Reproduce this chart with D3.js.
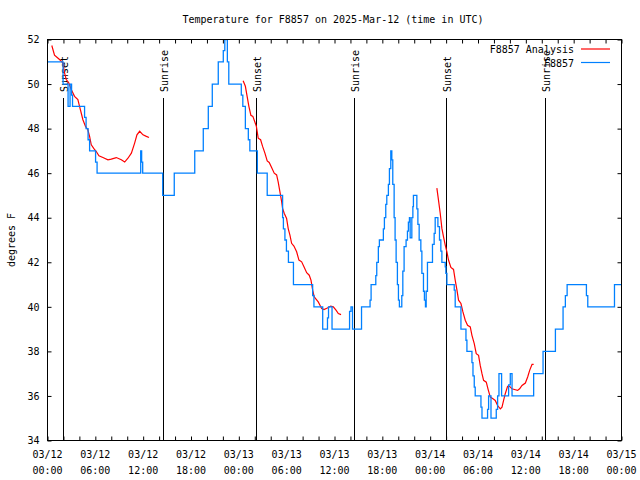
<!DOCTYPE html>
<html><head><meta charset="utf-8">
<script src="https://cdn.jsdelivr.net/npm/d3@7"></script>
<style>
body{margin:0;background:#fff}
text{font-family:"DejaVu Sans Mono","Liberation Mono",monospace;font-size:10px;fill:#000}
</style>
</head><body>
<svg id="chart" width="640" height="480"></svg>
<script>
const title = "Temperature for F8857 on 2025-Mar-12 (time in UTC)";
const yLabel = "degrees F";
const seriesNames = ["F8857 Analysis", "F8857"];
const seriesColors = ["#ff0000", "#0080ff"];
const startUTC = Date.UTC(2025, 2, 12, 0, 0);
const xTickHours = [0, 6, 12, 18, 24, 30, 36, 42, 48, 54, 60, 66, 72];
const xTickDates = ["03/12","03/12","03/12","03/12","03/13","03/13","03/13","03/13","03/14","03/14","03/14","03/14","03/15"];
const xTickTimes = ["00:00","06:00","12:00","18:00","00:00","06:00","12:00","18:00","00:00","06:00","12:00","18:00","00:00"];
const yTicks = [34, 36, 38, 40, 42, 44, 46, 48, 50, 52];
const sunLabels = ["Sunset", "Sunrise", "Sunset", "Sunrise", "Sunset", "Sunrise"];
const sunHours = [2.0, 14.45, 26.1, 38.4, 50.0, 62.4];

// observations (hours since 03/12 00:00 UTC, degrees F), step changes
const obsHours = [0.00,1.95,2.58,2.83,3.02,3.14,4.65,4.84,5.09,5.28,6.03,6.22,11.69,11.81,11.94,14.45,15.90,18.47,19.54,20.17,20.67,21.42,22.05,22.24,22.56,22.74,24.31,24.50,24.82,25.19,25.38,26.32,27.56,29.49,29.59,29.78,29.97,30.22,30.85,33.26,33.42,34.52,35.12,35.25,35.69,37.89,38.07,38.26,39.39,40.46,40.59,41.18,41.30,41.50,41.63,42.13,42.26,42.43,42.56,42.76,42.89,43.06,43.19,43.31,43.48,43.60,43.73,43.89,44.02,44.14,44.44,44.57,44.73,44.98,45.15,45.27,45.40,45.49,45.70,45.83,45.90,46.33,46.46,46.62,46.83,46.96,47.16,47.28,47.41,47.50,47.66,48.29,48.50,48.63,48.97,49.17,49.34,49.47,49.89,49.97,50.10,51.02,51.14,51.86,52.49,52.61,53.24,53.37,53.53,53.65,54.37,54.50,55.20,55.33,55.63,56.29,56.46,56.63,56.96,57.84,58.05,58.27,60.98,62.16,63.71,64.67,64.96,65.18,67.60,67.77,71.12,72.00];
const obsTemp  = [51,50,49,50,49.5,49,48.5,48,47.5,47,46.5,46,47,46.5,46,45,46,47,48,49,50,51,51.5,52,51,50,49.5,49,48,47.5,47,46,45,44,43.5,43,42.5,42,41,40.5,40,39,39.5,40,39,39.8,40,39,40,40.3,41,41.4,42,42.7,43,43.5,44,44.6,45,45.5,46.2,47,46.6,45.5,44,43,42,41,40.3,40,40.5,41.6,42.7,43,43.4,43.8,44,43.1,44,44.5,45,44.4,43.7,43,42.5,41.5,40.7,40.3,40,40.7,42,42.8,43.3,44,43.6,43,42.5,42,41.8,41.5,41,40.75,40,39,38.5,38,37.5,36.9,36.4,36,35.5,35,35.4,36,35,35.4,36,37,36,36.5,37,36,37,38,39,40,40.5,41,40.5,40,41,41];

// analysis (null = gap)
const anaHours = [0.54,0.88,1.51,1.92,2.14,2.35,2.68,2.98,3.39,3.81,4.02,4.23,4.44,4.77,5.06,5.28,5.49,5.82,6.12,6.45,6.95,7.58,8.00,8.63,9.26,9.68,10.09,10.52,10.93,11.22,11.56,11.98,12.40,12.73,
  18.0,
  24.54,24.82,25.04,25.26,25.51,25.76,26.01,26.20,26.43,26.73,26.98,27.27,27.56,27.81,28.11,28.44,28.74,28.94,29.15,29.37,29.49,29.69,29.99,30.20,30.41,30.62,30.91,31.25,31.54,31.88,32.17,32.51,32.83,33.05,33.26,33.46,33.68,33.96,34.18,34.39,34.68,35.10,35.52,35.85,36.19,36.48,36.82,
  42.0,
  48.84,49.04,49.26,49.47,49.67,49.89,50.10,50.30,50.60,50.93,51.14,51.36,51.56,51.86,52.11,52.40,52.69,53.03,53.24,53.53,53.78,54.07,54.28,54.50,54.70,55.04,55.25,55.54,55.88,56.16,56.46,56.80,57.01,57.21,57.42,57.71,57.96,58.26,58.68,58.97,59.22,59.52,59.94,60.23,60.48,60.78,60.98];
const anaTemp = [51.73,51.3,51.1,50.95,50.5,50.2,50.05,49.75,49.45,49.3,49.0,48.7,48.4,48.1,47.95,47.65,47.27,47.1,46.97,46.78,46.7,46.6,46.63,46.7,46.6,46.5,46.67,46.9,47.35,47.72,47.88,47.72,47.65,47.6,
  null,
  50.15,49.9,49.45,49.0,48.6,48.55,48.3,48.1,47.57,47.5,47.2,46.9,46.55,46.48,46.25,46.0,45.92,45.6,45.17,44.72,44.42,44.2,43.97,43.5,43.22,42.85,42.73,42.47,42.1,42.02,41.8,41.53,41.42,41.2,40.75,40.45,40.35,40.22,40.07,39.92,39.88,39.95,40.03,40.0,39.85,39.7,39.65,
  null,
  45.33,44.8,44.2,43.52,43.15,42.77,42.47,42.1,41.77,41.68,41.2,40.75,40.3,40.15,39.77,39.4,39.17,39.1,38.72,38.35,37.9,37.82,37.37,37.0,36.7,36.62,36.32,35.95,35.87,35.8,35.57,35.42,35.5,35.8,36.1,36.43,36.43,36.32,36.28,36.25,36.32,36.47,36.58,36.85,37.15,37.42,37.42];

const hourToDate = h => new Date(startUTC + h * 3600e3);

const L = 47.5, R = 621.5, T = 39.5, B = 440.5;
const svg = d3.select("#chart");
const x = d3.scaleUtc().domain([hourToDate(0), hourToDate(72)]).range([L, R]);
const y = d3.scaleLinear().domain([34, 52]).range([B, T]);

svg.append("defs").append("clipPath").attr("id", "clip")
  .append("rect").attr("x", L).attr("y", T).attr("width", R - L).attr("height", B - T);

// title
svg.append("text").attr("x", 333).attr("y", 23).attr("text-anchor", "middle").text(title);

// y label
svg.append("text").attr("transform", "translate(15,240) rotate(-90)")
  .attr("text-anchor", "middle").text(yLabel);

const minorHours = d3.range(0, 73, 2).map(hourToDate);

// bottom axis ticks
svg.append("g").attr("transform", `translate(0,${B})`)
  .call(d3.axisBottom(x).tickValues(minorHours).tickSizeInner(-4).tickSizeOuter(0).tickFormat(""))
  .call(g => g.select(".domain").remove());
// top axis ticks
svg.append("g").attr("transform", `translate(0,${T})`)
  .call(d3.axisTop(x).tickValues(minorHours).tickSizeInner(-4).tickSizeOuter(0).tickFormat(""))
  .call(g => g.select(".domain").remove());

// x labels (two lines)
const xl = svg.append("g");
xTickHours.forEach((h, i) => {
  const t = xl.append("text").attr("x", x(hourToDate(h))).attr("text-anchor", "middle");
  t.append("tspan").attr("x", x(hourToDate(h))).attr("y", 458).text(xTickDates[i]);
  t.append("tspan").attr("x", x(hourToDate(h))).attr("y", 474).text(xTickTimes[i]);
});

// left axis
svg.append("g").attr("transform", `translate(${L},0)`)
  .call(d3.axisLeft(y).tickValues(yTicks).tickSizeInner(-4).tickSizeOuter(0).tickPadding(8).tickFormat(d3.format("d")))
  .call(g => g.select(".domain").remove())
  .call(g => g.selectAll("text").attr("font-family", null).attr("font-size", null));
// right axis
svg.append("g").attr("transform", `translate(${R},0)`)
  .call(d3.axisRight(y).tickValues(yTicks).tickSizeInner(-4).tickSizeOuter(0).tickFormat(""))
  .call(g => g.select(".domain").remove());

// sun event lines
sunHours.forEach((h, i) => {
  const sx = Math.round(x(hourToDate(h))) + 0.5;
  svg.append("line").attr("x1", sx).attr("x2", sx).attr("y1", 98).attr("y2", B)
    .attr("stroke", "#000").attr("stroke-width", 1);
  svg.append("text").attr("transform", `translate(${sx + 4},92) rotate(-90)`)
    .attr("text-anchor", "start").text(sunLabels[i]);
});

const plot = svg.append("g").attr("clip-path", "url(#clip)");

// analysis line
const anaData = anaHours.map((h, i) => ({t: hourToDate(h), v: anaTemp[i]}));
plot.append("path").datum(anaData)
  .attr("fill", "none").attr("stroke", seriesColors[0]).attr("stroke-width", 1.2)
  .attr("d", d3.line().defined(d => d.v != null).x(d => x(d.t)).y(d => y(d.v)));

// observations (steps)
const obsData = obsHours.map((h, i) => ({t: hourToDate(h), v: obsTemp[i]}));
plot.append("path").datum(obsData)
  .attr("fill", "none").attr("stroke", seriesColors[1]).attr("stroke-width", 1.3)
  .attr("d", d3.line().curve(d3.curveStepAfter).x(d => x(d.t)).y(d => y(d.v)));

// frame
svg.append("rect").attr("x", L).attr("y", T).attr("width", R - L).attr("height", B - T)
  .attr("fill", "none").attr("stroke", "#000").attr("stroke-width", 1);

// legend
seriesNames.forEach((name, i) => {
  const ly = 49 + i * 13.5;
  svg.append("text").attr("x", 574).attr("y", ly + 4).attr("text-anchor", "end").text(name);
  svg.append("line").attr("x1", 581).attr("x2", 610).attr("y1", ly).attr("y2", ly)
    .attr("stroke", seriesColors[i]).attr("stroke-width", 1.2);
});
</script>
</body></html>
